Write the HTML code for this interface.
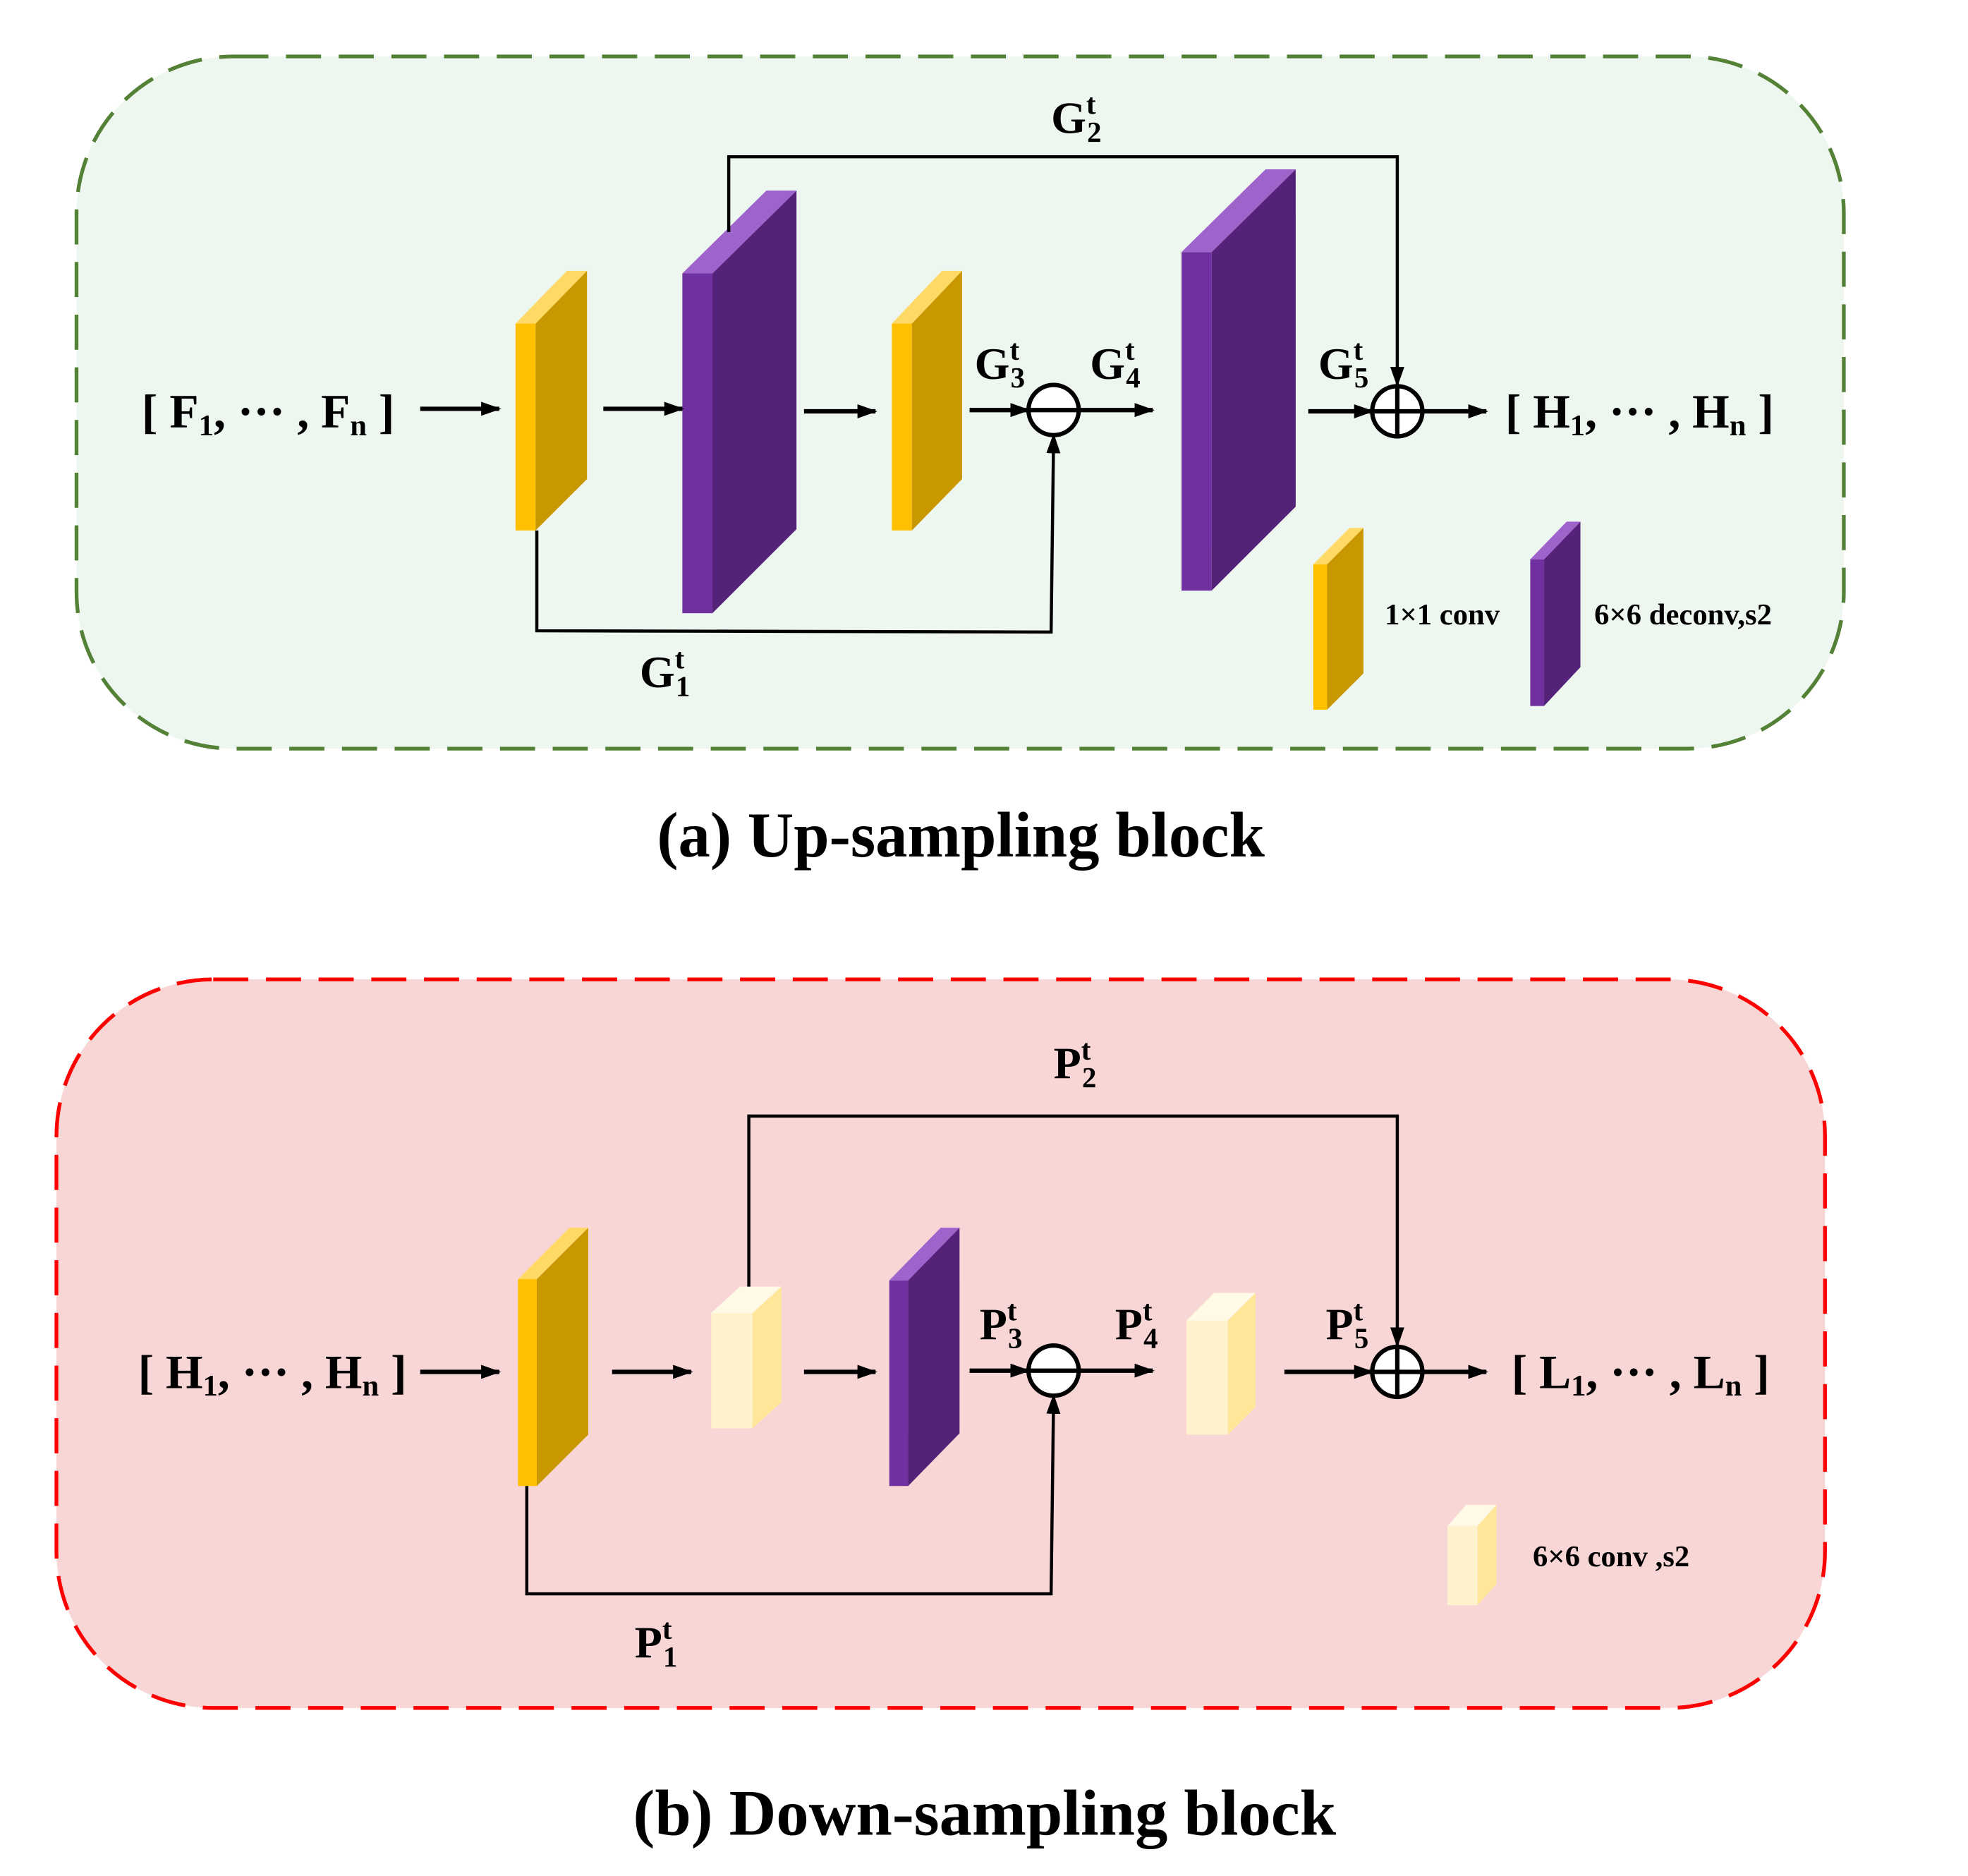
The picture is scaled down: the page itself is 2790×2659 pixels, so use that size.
<!DOCTYPE html>
<html><head><meta charset="utf-8"><style>
html,body{margin:0;padding:0;background:#fff;}
svg{display:block;}
text{font-family:"Liberation Serif",serif;font-weight:bold;fill:#000;}
</style></head><body>
<svg width="2790" height="2659" viewBox="0 0 1569 1496" preserveAspectRatio="none" xmlns="http://www.w3.org/2000/svg">
<defs>
<marker id="ah2" viewBox="0 0 10 10" refX="9" refY="5" markerWidth="16" markerHeight="16" orient="auto" markerUnits="userSpaceOnUse"><path d="M0,1.5 L10,5 L0,8.5 z"/></marker>
</defs>
<rect x="61" y="45" width="1409" height="552" rx="125" fill="#eef6f0" stroke="#538135" stroke-width="3" stroke-dasharray="28,14"/>
<rect x="45" y="781" width="1410" height="581" rx="125" fill="#f9d6d6" stroke="#ff0000" stroke-width="3" stroke-dasharray="28,14"/>

<rect x="411" y="258" width="16" height="165" fill="#ffc000"/>
<polygon points="427,258 468,216 468,382 427,423" fill="#c99700"/>
<polygon points="411,258 452,216 468,216 427,258" fill="#ffd966"/>
<rect x="544" y="218" width="24" height="271" fill="#7030a0"/>
<polygon points="568,218 635,152 635,422 568,489" fill="#542379"/>
<polygon points="544,218 611,152 635,152 568,218" fill="#9e64cc"/>
<rect x="711" y="258" width="16" height="165" fill="#ffc000"/>
<polygon points="727,258 767,216 767,382 727,423" fill="#c99700"/>
<polygon points="711,258 751,216 767,216 727,258" fill="#ffd966"/>
<rect x="942" y="201" width="24" height="270" fill="#7030a0"/>
<polygon points="966,201 1033,135 1033,404 966,471" fill="#542379"/>
<polygon points="942,201 1009,135 1033,135 966,201" fill="#9e64cc"/>
<rect x="1047" y="450" width="11" height="116" fill="#ffc000"/>
<polygon points="1058,450 1087,421 1087,537 1058,566" fill="#c99700"/>
<polygon points="1047,450 1076,421 1087,421 1058,450" fill="#ffd966"/>
<rect x="1220" y="446" width="11" height="117" fill="#7030a0"/>
<polygon points="1231,446 1260,416 1260,532 1231,563" fill="#542379"/>
<polygon points="1220,446 1249,416 1260,416 1231,446" fill="#9e64cc"/>

<g stroke="#000" stroke-width="3.5" fill="none">
<line x1="335" y1="326" x2="398" y2="326" marker-end="url(#ah2)"/>
<line x1="481" y1="326" x2="544" y2="326" marker-end="url(#ah2)"/>
<line x1="641" y1="328" x2="698" y2="328" marker-end="url(#ah2)"/>
<line x1="773" y1="327" x2="820" y2="327" marker-end="url(#ah2)"/>
<line x1="861" y1="327" x2="919" y2="327" marker-end="url(#ah2)"/>
<line x1="1043" y1="328" x2="1094" y2="328" marker-end="url(#ah2)"/>
<line x1="1135" y1="328" x2="1185" y2="328" marker-end="url(#ah2)"/>
<polyline points="581,185 581,125 1114,125 1114,307" marker-end="url(#ah2)" stroke-width="2.5"/>
<polyline points="428,423 428,503 838,504 840,347" marker-end="url(#ah2)" stroke-width="2.5"/>
<ellipse cx="840" cy="327" rx="20" ry="20" fill="#fff"/>
<line x1="820" y1="327" x2="860" y2="327"/>
<ellipse cx="1114" cy="328" rx="20" ry="20" fill="#fff"/>
<line x1="1094" y1="328" x2="1134" y2="328"/><line x1="1114" y1="308" x2="1114" y2="348"/>
</g>

<text x="113" y="341" font-size="38">[ F<tspan font-size="24" dy="6">1</tspan><tspan dy="-6">, ··· , F</tspan><tspan font-size="24" dy="6">n</tspan><tspan dy="-6"> ]</tspan></text>
<text x="1200" y="341" font-size="38">[ H<tspan font-size="24" dy="6">1</tspan><tspan dy="-6">, ··· , H</tspan><tspan font-size="24" dy="6">n</tspan><tspan dy="-6"> ]</tspan></text>
<text x="838" y="106" font-size="36">G<tspan font-size="23" dy="-15">t</tspan><tspan font-size="23" dx="-7" dy="22">2</tspan></text>
<text x="777" y="302" font-size="36">G<tspan font-size="23" dy="-15">t</tspan><tspan font-size="23" dx="-7" dy="22">3</tspan></text>
<text x="869" y="302" font-size="36">G<tspan font-size="23" dy="-15">t</tspan><tspan font-size="23" dx="-7" dy="22">4</tspan></text>
<text x="1051" y="302" font-size="36">G<tspan font-size="23" dy="-15">t</tspan><tspan font-size="23" dx="-7" dy="22">5</tspan></text>
<text x="510" y="548" font-size="36">G<tspan font-size="23" dy="-15">t</tspan><tspan font-size="23" dx="-7" dy="22">1</tspan></text>
<text x="1104" y="498" font-size="24">1×1 conv</text>
<text x="1271" y="498" font-size="24">6×6 deconv,s2</text>
<text x="766" y="683" font-size="51" text-anchor="middle">(a) Up-sampling block</text>

<rect x="413" y="1020" width="15" height="165" fill="#ffc000"/>
<polygon points="428,1020 469,979 469,1144 428,1185" fill="#c99700"/>
<polygon points="413,1020 454,979 469,979 428,1020" fill="#ffd966"/>
<rect x="567" y="1047" width="33" height="92" fill="#fff2cc"/>
<polygon points="600,1047 623,1026 623,1118 600,1139" fill="#ffe699"/>
<polygon points="567,1047 590,1026 623,1026 600,1047" fill="#fffae6"/>
<rect x="709" y="1021" width="15" height="164" fill="#7030a0"/>
<polygon points="724,1021 765,979 765,1143 724,1185" fill="#542379"/>
<polygon points="709,1021 750,979 765,979 724,1021" fill="#9e64cc"/>
<rect x="946" y="1053" width="33" height="91" fill="#fff2cc"/>
<polygon points="979,1053 1001,1031 1001,1122 979,1144" fill="#ffe699"/>
<polygon points="946,1053 968,1031 1001,1031 979,1053" fill="#fffae6"/>
<rect x="1154" y="1217" width="24" height="63" fill="#fff2cc"/>
<polygon points="1178,1217 1193,1200 1193,1263 1178,1280" fill="#ffe699"/>
<polygon points="1154,1217 1169,1200 1193,1200 1178,1217" fill="#fffae6"/>

<g stroke="#000" stroke-width="3.5" fill="none">
<line x1="335" y1="1094" x2="398" y2="1094" marker-end="url(#ah2)"/>
<line x1="488" y1="1094" x2="551" y2="1094" marker-end="url(#ah2)"/>
<line x1="641" y1="1094" x2="698" y2="1094" marker-end="url(#ah2)"/>
<line x1="773" y1="1093" x2="820" y2="1093" marker-end="url(#ah2)"/>
<line x1="861" y1="1093" x2="919" y2="1093" marker-end="url(#ah2)"/>
<line x1="1024" y1="1094" x2="1094" y2="1094" marker-end="url(#ah2)"/>
<line x1="1135" y1="1094" x2="1185" y2="1094" marker-end="url(#ah2)"/>
<polyline points="597,1026 597,890 1114,890 1114,1073" marker-end="url(#ah2)" stroke-width="2.5"/>
<polyline points="420,1185 420,1271 838,1271 840,1113" marker-end="url(#ah2)" stroke-width="2.5"/>
<ellipse cx="840" cy="1093" rx="20" ry="20" fill="#fff"/>
<line x1="820" y1="1093" x2="860" y2="1093"/>
<ellipse cx="1114" cy="1094" rx="20" ry="20" fill="#fff"/>
<line x1="1094" y1="1094" x2="1134" y2="1094"/><line x1="1114" y1="1074" x2="1114" y2="1114"/>
</g>

<text x="110" y="1107" font-size="38">[ H<tspan font-size="24" dy="6">1</tspan><tspan dy="-6">, ··· , H</tspan><tspan font-size="24" dy="6">n</tspan><tspan dy="-6"> ]</tspan></text>
<text x="1205" y="1107" font-size="38">[ L<tspan font-size="24" dy="6">1</tspan><tspan dy="-6">, ··· , L</tspan><tspan font-size="24" dy="6">n</tspan><tspan dy="-6"> ]</tspan></text>
<text x="840" y="860" font-size="36">P<tspan font-size="23" dy="-15">t</tspan><tspan font-size="23" dx="-7" dy="22">2</tspan></text>
<text x="781" y="1068" font-size="36">P<tspan font-size="23" dy="-15">t</tspan><tspan font-size="23" dx="-7" dy="22">3</tspan></text>
<text x="889" y="1068" font-size="36">P<tspan font-size="23" dy="-15">t</tspan><tspan font-size="23" dx="-7" dy="22">4</tspan></text>
<text x="1057" y="1068" font-size="36">P<tspan font-size="23" dy="-15">t</tspan><tspan font-size="23" dx="-7" dy="22">5</tspan></text>
<text x="506" y="1322" font-size="36">P<tspan font-size="23" dy="-15">t</tspan><tspan font-size="23" dx="-7" dy="22">1</tspan></text>
<text x="1222" y="1249" font-size="24">6×6 conv ,s2</text>
<text x="785" y="1463" font-size="52" text-anchor="middle">(b) Down-sampling block</text>
</svg>
</body></html>
